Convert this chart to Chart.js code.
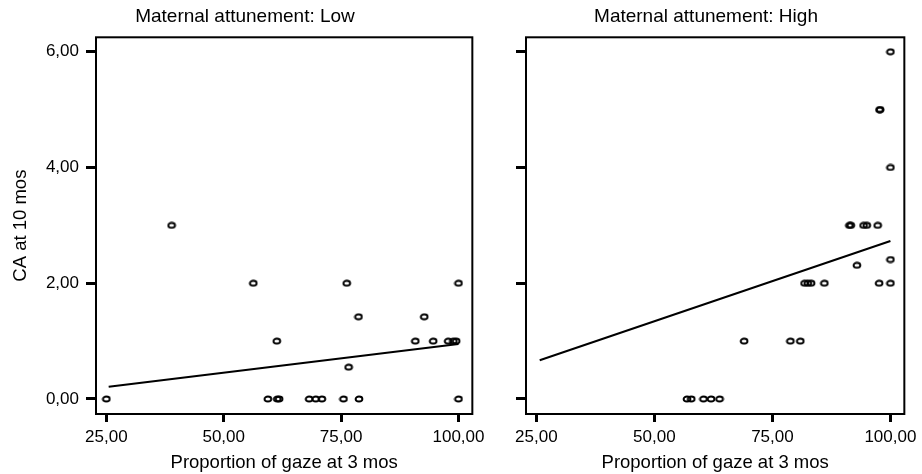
<!DOCTYPE html>
<html>
<head>
<meta charset="utf-8">
<script src="https://cdn.jsdelivr.net/npm/chart.js@4/dist/chart.umd.min.js"></script>
<style>
  body { margin: 0; background: #fff; }
  #wrap { position: relative; width: 922px; height: 474px; }
  canvas { position: absolute; top: 0; }
</style>
</head>
<body>
<div id="wrap">
  <canvas id="low" width="490" height="474" style="left:0"></canvas>
  <canvas id="high" width="432" height="474" style="left:490px"></canvas>
</div>
<script>
var xTicks = [25, 50, 75, 100];
var yTicks = [0, 2, 4, 6];

var lowX = [25.0, 38.9, 56.3, 61.3, 76.2, 78.7, 76.6, 90.8, 92.7, 94.6, 97.8, 98.9, 99.5, 100, 100, 59.4, 61.4, 61.8, 68.2, 69.6, 70.9, 75.5, 78.8];
var lowY = [0, 3, 2, 1, 2, 1.42, 0.55, 1, 1.42, 1, 1, 1, 1, 2, 0, 0, 0, 0, 0, 0, 0, 0, 0];
var lowFitX = [25.5, 100];
var lowFitY = [0.21, 0.95];

var highX = [100, 97.7, 97.8, 100, 91.3, 91.6, 94.3, 95.0, 97.3, 100, 92.9, 81.8, 82.5, 83.2, 86.0, 97.6, 100, 69.0, 78.8, 80.9, 56.9, 57.8, 60.4, 62.0, 63.8];
var highY = [6, 5, 5, 4, 3, 3, 3, 3, 3, 2.41, 2.31, 2, 2, 2, 2, 2, 2, 1, 1, 1, 0, 0, 0, 0, 0];
var highFitX = [25.7, 100];
var highFitY = [0.67, 2.73];

var fontFamily = "'Liberation Sans', Arial, sans-serif";

// small open ellipse used as marker
var marker = document.createElement('canvas');
marker.width = 10;
marker.height = 8;
var mctx = marker.getContext('2d');
mctx.strokeStyle = '#000';
mctx.lineWidth = 1.9;
mctx.beginPath();
mctx.ellipse(5, 4, 3.4, 2.5, 0, 0, Math.PI * 2);
mctx.stroke();

function pairs(xs, ys) {
    var out = [];
    xs.forEach((x, i) => out.push({ x: x, y: ys[i] }));
    return out;
}

function fmt(v) {
    return v.toFixed(2).replace('.', ',');
}

var frame = {
    id: 'frame',
    afterDraw(chart) {
        var a = chart.chartArea;
        var ctx = chart.ctx;
        ctx.save();
        ctx.strokeStyle = '#000';
        ctx.lineWidth = 2;
        ctx.strokeRect(a.left, a.top, a.right - a.left, a.bottom - a.top);
        ctx.restore();
    }
};

function plota(canvasId, title, xs, ys, fitX, fitY, leftWidth, rightWidth, showY) {
    var canvas = document.getElementById(canvasId);

    var config = {
        type: 'scatter',
        data: {
            datasets: [{
                data: pairs(xs, ys),
                pointStyle: marker,
                pointRadius: 4,
                clip: false
            }, {
                type: 'line',
                data: pairs(fitX, fitY),
                borderColor: '#000',
                borderWidth: 2,
                pointRadius: 0,
                fill: false
            }]
        },
        options: {
            responsive: false,
            animation: false,
            devicePixelRatio: 1,
            layout: { padding: 0 },
            plugins: {
                legend: { display: false },
                tooltip: { enabled: false },
                title: {
                    display: true,
                    text: title,
                    color: '#000',
                    font: { family: fontFamily, size: 19, weight: 'normal' },
                    padding: { top: 5, bottom: 9.5 }
                }
            },
            scales: {
                x: {
                    type: 'linear',
                    min: 22.8,
                    max: 102.95,
                    afterBuildTicks: s => { s.ticks = xTicks.map(v => ({ value: v })); },
                    afterFit: s => { s.height = 60; },
                    border: { display: false },
                    grid: { display: true, drawOnChartArea: false, drawTicks: true, tickLength: 8, tickWidth: 3, tickColor: '#000' },
                    ticks: {
                        color: '#000',
                        padding: 5,
                        maxRotation: 0,
                        font: { family: fontFamily, size: 17 },
                        callback: v => fmt(v)
                    },
                    title: {
                        display: true,
                        text: 'Proportion of gaze at 3 mos',
                        color: '#000',
                        font: { family: fontFamily, size: 18.5 },
                        padding: { top: 0, bottom: 0 }
                    }
                },
                y: {
                    type: 'linear',
                    position: 'left',
                    min: -0.26,
                    max: 6.25,
                    afterBuildTicks: s => { s.ticks = yTicks.map(v => ({ value: v })); },
                    afterFit: s => { s.width = leftWidth; },
                    border: { display: false },
                    grid: { display: true, drawOnChartArea: false, drawTicks: true, tickLength: 10, tickWidth: 3, tickColor: '#000' },
                    ticks: {
                        display: showY,
                        color: '#000',
                        padding: 7,
                        font: { family: fontFamily, size: 17 },
                        callback: v => fmt(v)
                    },
                    title: {
                        display: showY,
                        text: 'CA at 10 mos',
                        color: '#000',
                        font: { family: fontFamily, size: 18.5 },
                        padding: { top: 10, bottom: 0 }
                    }
                },
                spacer: {
                    type: 'linear',
                    position: 'right',
                    display: true,
                    afterFit: s => { s.width = rightWidth; },
                    border: { display: false },
                    grid: { display: false },
                    ticks: { display: false }
                }
            }
        },
        plugins: [frame]
    };

    window[canvasId] = new Chart(canvas, config);
}

plota('low', 'Maternal attunement: Low', lowX, lowY, lowFitX, lowFitY, 96, 14, true);
plota('high', 'Maternal attunement: High', highX, highY, highFitX, highFitY, 36, 16, false);
</script>
</body>
</html>
